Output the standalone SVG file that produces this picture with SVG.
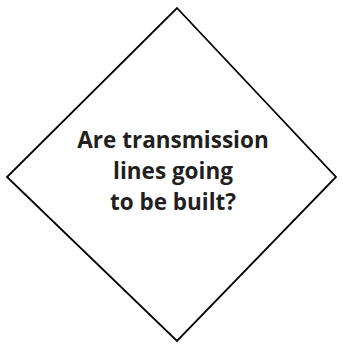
<svg xmlns="http://www.w3.org/2000/svg" width="343" height="345" viewBox="0 0 343 345">
<style>
.shape{fill:#fff;stroke:#000;stroke-width:1.8}
.lbl{font-family:"Open Sans","Liberation Sans",sans-serif;font-weight:bold;font-size:22.5px;fill:#231f20;text-anchor:middle}
</style>
<rect width="343" height="345" fill="#fff"/>
<g id="connectors"></g>
<g id="decision">
<polygon class="shape" points="177,8 336,177 177,341 7,177"/>
<text class="lbl" x="173" y="148">Are transmission</text>
<text class="lbl" x="173" y="179">lines going</text>
<text class="lbl" x="173" y="210">to be built?</text>
</g>
</svg>
